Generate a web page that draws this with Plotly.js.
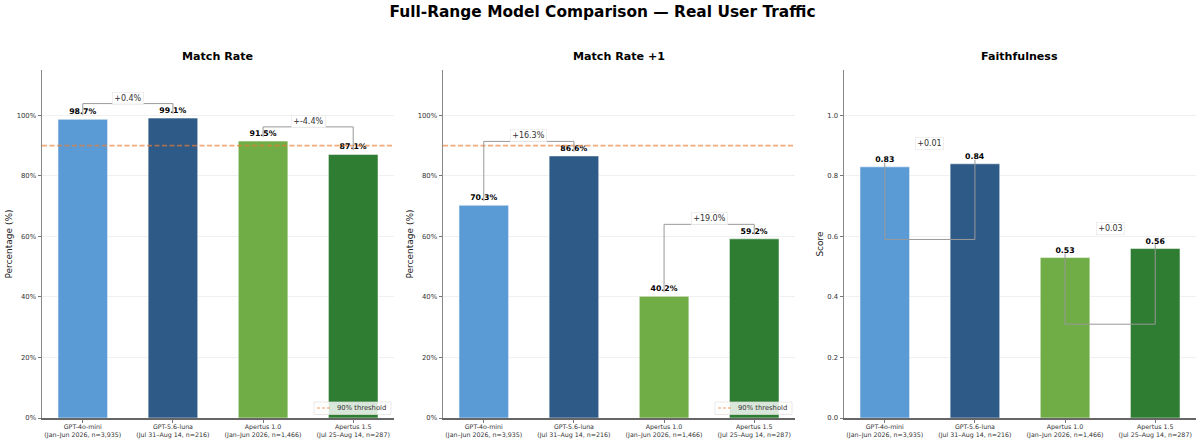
<!DOCTYPE html>
<html>
<head>
<meta charset="utf-8">
<script src="https://cdn.plot.ly/plotly-3.0.1.min.js"></script>
<style>html,body{margin:0;padding:0;background:#fff}</style>
</head>
<body>
<div id="chart" style="width:1200px;height:442px"></div>
<script>
// Full-range comparison, three panels

var models = ["GPT-4o-mini<br>(Jan–Jun 2026, n=3,935)", "GPT-5.6-luna<br>(Jul 31–Aug 14, n=216)", "Apertus 1.0<br>(Jan–Jun 2026, n=1,466)", "Apertus 1.5<br>(Jul 25–Aug 14, n=287)"];
var colors = ["#5B9BD5", "#2E5A87", "#70AD47", "#2E7D32"];

var matchRate = [98.7, 99.1, 91.5, 87.1];
var matchRatePlus = [70.3, 86.6, 40.2, 59.2];
var faithfulness = [0.83, 0.84, 0.53, 0.56];

var threshold = 90;

var pctTicks = [0, 20, 40, 60, 80, 100];
var pctLabels = ["0%", "20%", "40%", "60%", "80%", "100%"];
var scoreTicks = [0, 0.2, 0.4, 0.6, 0.8, 1.0];
var scoreLabels = ["0.0", "0.2", "0.4", "0.6", "0.8", "1.0"];

// bracket height and label height for the two pairs (0-1, 2-3)
var matchTops = [103.9, 96.2];
var matchLabelY = [105.7, 98];
var matchDeltas = ["+0.4%", "+-4.4%"];

var plusTops = [91.4, 64];
var plusLabelY = [93.2, 65.8];
var plusDeltas = ["+16.3%", "+19.0%"];

var faithTops = [0.59, 0.31];
var faithLabelY = [0.906, 0.625];
var faithDeltas = ["+0.01", "+0.03"];

var font = "DejaVu Sans";
var W = 1200, H = 442;
var positions = [0, 1, 2, 3];

var traces = [];
var shapes = [];
var annotations = [];

function addBars(n, values, fmt) {
    traces.push({
        type: "bar",
        x: positions,
        y: values,
        width: 0.55,
        xaxis: "x" + n,
        yaxis: "y" + n,
        marker: {color: colors, line: {color: "rgba(255,255,255,0.5)", width: 1}},
        text: values.map(fmt),
        textposition: "outside",
        cliponaxis: false,
        textangle: 0,
        textfont: {family: font, size: 7.8, color: "#000", weight: "bold"},
        hoverinfo: "skip",
        showlegend: false
    });
}

function addBrackets(n, values, tops, labelY, deltas, gap) {
    for (var p = 0; p < 2; p++) {
        var a = p * 2, b = a + 1;
        shapes.push({
            type: "path",
            xref: "x" + n,
            yref: "y" + n,
            line: {color: "#999999", width: 1},
            path: "M " + a + " " + (values[a] + gap) + " L " + a + " " + tops[p] + " L " + b + " " + tops[p] + " L " + b + " " + (values[b] + gap)
        });
        annotations.push({
            xref: "x" + n,
            yref: "y" + n,
            x: a + 0.5,
            y: labelY[p],
            xanchor: "center",
            text: deltas[p],
            showarrow: false,
            font: {family: font, size: 8, color: "#333"},
            bgcolor: "rgba(255,255,255,0.9)",
            bordercolor: "#e8e8e8",
            borderwidth: 0.7,
            borderpad: 1.5
        });
    }
}

function addThreshold(n) {
    traces.push({
        type: "scatter",
        mode: "lines",
        x: [-0.4525, 3.4525],
        y: [threshold, threshold],
        xaxis: "x" + n,
        yaxis: "y" + n,
        showlegend: false,
        line: {color: "rgba(237,125,49,0.65)", width: 1.6, dash: "5px,2.5px"},
        hoverinfo: "skip"
    });
}

// small legend box, plotly's own legend has too much padding for this size
function addThresholdKey(right) {
    shapes.push({
        type: "rect", xref: "paper", yref: "paper",
        x0: (right - 77) / W, x1: right / W,
        y0: 1 - 402 / H, y1: 1 - 414.5 / H,
        fillcolor: "rgba(255,255,255,0.82)",
        line: {color: "#e0e0e0", width: 0.7}
    });
    shapes.push({
        type: "line", xref: "paper", yref: "paper",
        x0: (right - 74) / W, x1: (right - 59) / W,
        y0: 1 - 408 / H, y1: 1 - 408 / H,
        line: {color: "rgba(237,125,49,0.75)", width: 1.2, dash: "3px,2px"}
    });
    annotations.push({
        xref: "paper", yref: "paper",
        x: (right - 3.5) / W, y: 1 - 408 / H,
        xanchor: "right", yanchor: "middle",
        text: "90% threshold",
        showarrow: false,
        font: {family: font, size: 6.8, color: "#333"}
    });
}

addBars(1, matchRate, function (v) { return v.toFixed(1) + "%"; });
addBars(2, matchRatePlus, function (v) { return v.toFixed(1) + "%"; });
addBars(3, faithfulness, function (v) { return v.toFixed(2); });
addThreshold(1);
addThreshold(2);

addBrackets(1, matchRate, matchTops, matchLabelY, matchDeltas, 1.4);
addBrackets(2, matchRatePlus, plusTops, plusLabelY, plusDeltas, 1.4);
addBrackets(3, faithfulness, faithTops, faithLabelY, faithDeltas, 0.014);

addThresholdKey(391);
addThresholdKey(792);

function xAxis(left, right, anchor) {
    return {
        domain: [left / W, right / W],
        anchor: anchor,
        range: [-0.4525, 3.4525],
        tickmode: "array",
        tickvals: positions,
        ticktext: models,
        tickangle: 0,
        tickfont: {family: font, size: 6.3, color: "#333"},
        ticks: "outside",
        ticklen: 3,
        tickwidth: 0.8,
        tickcolor: "#555",
        ticklabelstandoff: -1,
        showline: true,
        linecolor: "#666",
        linewidth: 1.5,
        showgrid: false,
        zeroline: false,
        fixedrange: true
    };
}

function yAxis(anchor, range, vals, labels, label) {
    return {
        domain: [1 - 418 / H, 1 - 70 / H],
        anchor: anchor,
        range: range,
        tickmode: "array",
        tickvals: vals,
        ticktext: labels,
        tickfont: {family: font, size: 6.8, color: "#333"},
        ticks: "outside",
        ticklen: 3,
        tickwidth: 0.8,
        tickcolor: "#555",
        showline: true,
        linecolor: "#888",
        linewidth: 1.5,
        gridcolor: "rgba(0,0,0,0.06)",
        gridwidth: 1,
        zeroline: false,
        fixedrange: true,
        title: {text: label, font: {family: font, size: 9, color: "#222"}, standoff: 2}
    };
}

function panelTitle(text, cx) {
    annotations.push({
        xref: "paper", yref: "paper",
        x: cx / W, y: 1 - 57 / H,
        xanchor: "center", yanchor: "middle",
        text: "<b>" + text + "</b>",
        showarrow: false,
        font: {family: font, size: 11.1, color: "#000"}
    });
}
panelTitle("Match Rate", 217.5);
panelTitle("Match Rate +1", 618.5);
panelTitle("Faithfulness", 1019.5);

var layout = {
    width: W,
    height: H,
    margin: {l: 0, r: 0, t: 0, b: 0},
    paper_bgcolor: "#fff",
    plot_bgcolor: "#fff",
    showlegend: false,
    title: {
        text: "<b>Full-Range Model Comparison — Real User Traffic</b>",
        font: {family: font, size: 15.4, color: "#000"},
        x: 602.5 / W,
        xanchor: "center",
        y: 1 - 12 / H,
        yanchor: "middle"
    },
    xaxis: xAxis(42, 394, "y"),
    yaxis: yAxis("x", [0, 115], pctTicks, pctLabels, "Percentage (%)"),
    xaxis2: xAxis(443, 795, "y2"),
    yaxis2: yAxis("x2", [0, 115], pctTicks, pctLabels, "Percentage (%)"),
    xaxis3: xAxis(844, 1196, "y3"),
    yaxis3: yAxis("x3", [0, 1.15], scoreTicks, scoreLabels, "Score"),
    shapes: shapes,
    annotations: annotations,
    bargap: 0.45
};

Plotly.newPlot("chart", traces, layout, {displayModeBar: false, staticPlot: true});
</script>
</body>
</html>
